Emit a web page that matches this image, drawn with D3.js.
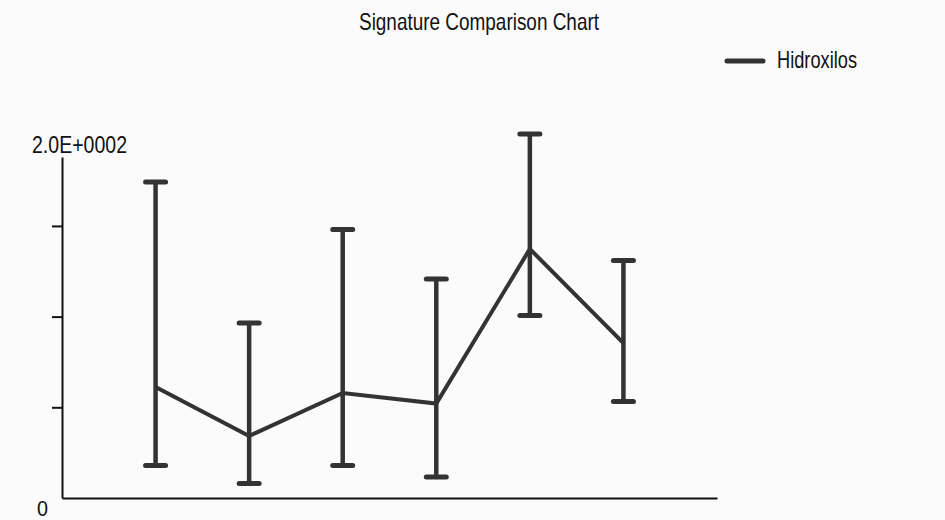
<!DOCTYPE html>
<html>
<head>
<meta charset="utf-8">
<script src="https://cdn.jsdelivr.net/npm/d3@7"></script>
<style>
  html, body { margin: 0; padding: 0; background: #fbfbfb; }
  #chart { width: 945px; height: 520px; }
</style>
</head>
<body>
<div id="chart"></div>
<script>
// Signature comparison: mean with low/high range per sample
const samples = [1, 2, 3, 4, 5, 6];
const means = [61.2, 34.2, 57.9, 52.1, 137.3, 85.4];
const lows = [17.9, 8.0, 17.9, 11.6, 100.6, 53.2];
const highs = [174.2, 96.5, 148.0, 120.7, 200.7, 130.9];
const seriesName = "Hidroxilos";
const yTickValues = [50, 100, 150];
const yEndLabels = ["0", "2.0E+0002"];
const yMax = 188;

function drawChart() {
  const width = 945;
  const height = 520;
  const ink = "#333333";
  const font = '"Liberation Sans Narrow", "Arial Narrow", "Liberation Sans", sans-serif';

  const svg = d3.select("#chart")
    .append("svg")
    .attr("width", width)
    .attr("height", height);

  svg.append("rect")
    .attr("width", width)
    .attr("height", height)
    .attr("fill", "#fbfbfb");

  const x = d3.scaleLinear().domain([0, samples.length + 1]).range([62, 717]);
  const y = d3.scaleLinear().domain([0, yMax]).range([498, 157]);

  // title
  svg.append("text")
    .attr("x", 479)
    .attr("y", 30)
    .attr("text-anchor", "middle")
    .attr("font-family", font)
    .attr("font-size", 24)
    .attr("fill", "#111")
    .attr("textLength", 240)
    .attr("lengthAdjust", "spacingAndGlyphs")
    .text("Signature Comparison Chart");

  // axes
  const yAxis = d3.axisLeft(y)
    .tickValues(yTickValues)
    .tickSize(10)
    .tickSizeOuter(0)
    .tickFormat("");

  const gy = svg.append("g")
    .attr("transform", "translate(" + x(0) + ",0)")
    .call(yAxis);
  gy.select(".domain").attr("stroke", "#111").attr("stroke-width", 2);
  gy.selectAll(".tick line").attr("stroke", "#111").attr("stroke-width", 2);

  const xAxis = d3.axisBottom(x).tickValues([]).tickSizeOuter(0);
  const gx = svg.append("g")
    .attr("transform", "translate(0," + y(0) + ")")
    .call(xAxis);
  gx.select(".domain").attr("stroke", "#111").attr("stroke-width", 2);

  svg.append("text")
    .attr("x", x(0) - 25)
    .attr("y", y(0) + 18)
    .attr("font-family", font)
    .attr("font-size", 22)
    .attr("fill", "#111")
    .attr("textLength", 11)
    .attr("lengthAdjust", "spacingAndGlyphs")
    .text(yEndLabels[0]);

  svg.append("text")
    .attr("x", x(0) - 30)
    .attr("y", y(yMax) - 4)
    .attr("font-family", font)
    .attr("font-size", 24)
    .attr("fill", "#111")
    .attr("textLength", 95)
    .attr("lengthAdjust", "spacingAndGlyphs")
    .text(yEndLabels[1]);

  // error bars
  const bars = svg.append("g")
    .attr("stroke", ink)
    .attr("stroke-linecap", "round");

  samples.forEach(function(s, i) {
    bars.append("line")
      .attr("x1", x(s)).attr("x2", x(s))
      .attr("y1", y(lows[i])).attr("y2", y(highs[i]))
      .attr("stroke-width", 4.5);
    [lows[i], highs[i]].forEach(function(v) {
      bars.append("line")
        .attr("x1", x(s) - 10).attr("x2", x(s) + 10)
        .attr("y1", y(v)).attr("y2", y(v))
        .attr("stroke-width", 5);
    });
  });

  // mean line
  const line = d3.line()
    .x(function(d, i) { return x(samples[i]); })
    .y(function(d) { return y(d); });

  svg.append("path")
    .datum(means)
    .attr("d", line)
    .attr("fill", "none")
    .attr("stroke", ink)
    .attr("stroke-width", 4)
    .attr("stroke-linejoin", "miter");

  // legend
  svg.append("line")
    .attr("x1", 727).attr("x2", 763)
    .attr("y1", 61).attr("y2", 61)
    .attr("stroke", ink)
    .attr("stroke-width", 5)
    .attr("stroke-linecap", "round");

  svg.append("text")
    .attr("x", 777)
    .attr("y", 68)
    .attr("font-family", font)
    .attr("font-size", 24)
    .attr("fill", "#111")
    .attr("textLength", 80)
    .attr("lengthAdjust", "spacingAndGlyphs")
    .text(seriesName);
}

drawChart();
</script>
</body>
</html>
